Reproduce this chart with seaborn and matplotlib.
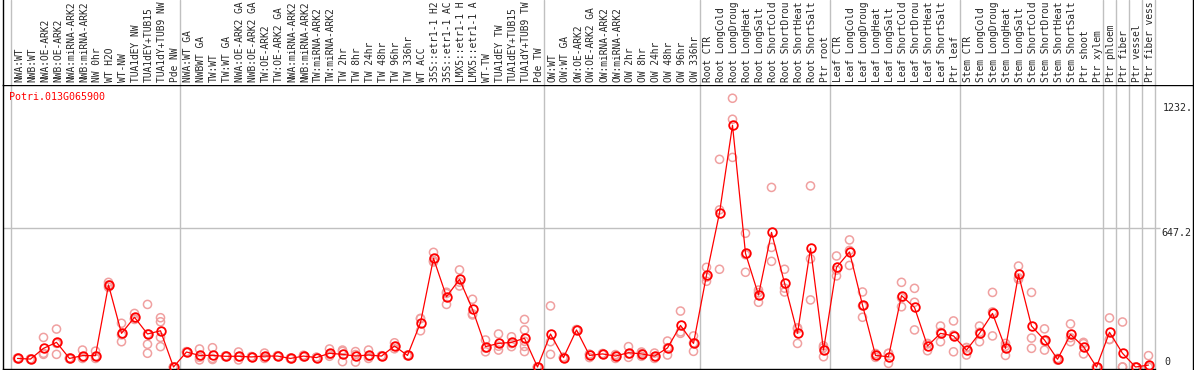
import numpy as np
import pandas as pd
import seaborn as sns
import matplotlib
matplotlib.use("Agg")
import matplotlib.pyplot as plt

sns.set_style("white")
plt.rcParams["font.family"] = ["DejaVu Sans Mono"]

gene = "Potri.013G065900"

# sample labels (as shown, truncated in the header)
labels = [
    "NWA:WT", "NWB:WT", "NWA:OE-ARK2", "NWB:OE-ARK2", "NWA:miRNA-ARK2", "NWB:miRNA-ARK2",
    "NW 0hr", "WT H2O", "WT-NW", "TUA1dEY NW", "TUA1dEY+TUB15", "TUA1dY+TUB9 NW", "Pde NW",
    "NWA:WT GA", "NWBWT GA", "TW:WT", "TW:WT GA", "NWA:OE-ARK2 GA", "NWB:OE-ARK2 GA",
    "TW:OE-ARK2", "TW:OE-ARK2 GA", "NWA:miRNA-ARK2", "NWB:miRNA-ARK2", "TW:miRNA-ARK2",
    "TW:miRNA-ARK2", "TW 2hr", "TW 8hr", "TW 24hr", "TW 48hr", "TW 96hr", "TW 336hr",
    "WT ACC", "35S::etr1-1 H2", "35S::etr1-1 AC", "LMX5::etr1-1 H", "LMX5::etr1-1 A",
    "WT-TW", "TUA1dEY TW", "TUA1dEY+TUB15", "TUA1dY+TUB9 TW", "Pde TW",
    "OW:WT", "OW:WT GA", "OW:OE-ARK2", "OW:OE-ARK2 GA", "OW:miRNA-ARK2", "OW:miRNA-ARK2",
    "OW 2hr", "OW 8hr", "OW 24hr", "OW 48hr", "OW 96hr", "OW 336hr",
    "Root CTR", "Root LongCold", "Root LongDroug", "Root LongHeat", "Root LongSalt",
    "Root ShortCold", "Root ShortDrou", "Root ShortHeat", "Root ShortSalt", "Ptr root",
    "Leaf CTR", "Leaf LongCold", "Leaf LongDroug", "Leaf LongHeat", "Leaf LongSalt",
    "Leaf ShortCold", "Leaf ShortDrou", "Leaf ShortHeat", "Leaf ShortSalt", "Ptr leaf",
    "Stem CTR", "Stem LongCold", "Stem LongDroug", "Stem LongHeat", "Stem LongSalt",
    "Stem ShortCold", "Stem ShortDrou", "Stem ShortHeat", "Stem ShortSalt", "Ptr shoot",
    "Ptr xylem", "Ptr phloem", "Ptr fiber", "Ptr vessel", "Ptr fiber vess",
]

# mean expression per sample
means = [
    40, 37, 87, 115, 40, 53, 53, 383, 157, 232, 154, 169, 0,
    70, 54, 54, 50, 50, 47, 51, 51, 40, 51, 44, 64, 59, 51, 56, 51, 98, 54,
    207, 507, 328, 409, 269, 95, 110, 115, 134, 0,
    154, 44, 173, 54, 61, 51, 67, 61, 51, 89, 194, 110,
    428, 719, 1128, 530, 336, 628, 392, 157, 554, 79,
    465, 537, 289, 54, 48, 333, 278, 98, 157, 145,
    79, 157, 250, 87, 432, 191, 126, 36, 152, 95, 0,
    162, 64, 0, 9,
]

# replicate values per sample
reps = [
    [38, 42, 40], [35, 38, 37], [138, 64, 59], [177, 59, 110], [38, 42, 40],
    [79, 40, 45], [74, 50, 40], [395, 372, 383], [204, 118, 150], [250, 222, 225],
    [292, 106, 64, 154], [230, 211, 138, 95], [0, 0, 0],
    [72, 68, 70], [84, 33, 45], [90, 40, 35], [50, 48, 52], [70, 33, 47],
    [45, 49, 47], [65, 40, 48], [53, 49, 51], [42, 38, 40], [55, 47, 51],
    [46, 42, 44], [84, 50, 58], [79, 25, 73], [72, 23, 58], [79, 40, 49],
    [53, 49, 51], [113, 85, 96], [56, 52, 54], [225, 169, 227], [535, 490, 496],
    [343, 292, 349], [453, 378, 396], [316, 243, 248], [126, 71, 88],
    [154, 79, 97], [141, 95, 109], [222, 173, 120, 96, 72], [0, 0, 0],
    [285, 59, 118], [46, 42, 44], [175, 171, 173], [60, 44, 58], [63, 59, 61],
    [55, 40, 58], [95, 45, 61], [70, 50, 63], [65, 40, 48], [121, 56, 90],
    [261, 157, 164], [145, 73, 112],
    [465, 400, 419], [969, 733, 456], [1254, 1156, 978], [624, 442, 524],
    [359, 302, 347], [838, 558, 493], [456, 368, 350], [178, 110, 183],
    [845, 505, 313], [90, 48, 99],
    [518, 425, 452], [593, 474, 544], [350, 232, 285], [63, 45, 54], [63, 17, 64],
    [395, 281, 323], [367, 302, 173], [110, 76, 108], [191, 118, 162], [215, 71, 149],
    [90, 56, 91], [191, 118, 162], [348, 145, 257], [110, 54, 97], [471, 409, 416],
    [348, 135, 87], [178, 79, 121], [40, 32, 36], [201, 118, 137], [115, 61, 109],
    [0, 0, 0], [229, 129, 128], [210, 0, 0], [0, 0, 0], [53, 0, 0],
]

# group boundaries (index of first sample of each block)
bounds = [0, 13, 41, 53, 63, 73, 84, 85, 86, 87, 88]

idx = np.arange(len(labels))
df_mean = pd.DataFrame({"pos": idx, "value": means})
df_rep = pd.DataFrame(
    [(i, v) for i, vals in enumerate(reps) for v in vals], columns=["pos", "value"]
)

W, H = 1194, 370
fig = plt.figure(figsize=(W / 100, H / 100), dpi=100)
# plot area and header, in pixel fractions
ax = fig.add_axes([3 / W, 1 / H, 1190 / W, 284 / H])
axh = fig.add_axes([3 / W, 285 / H, 1190 / W, 85 / H])

px_per_col = 13.0
x0 = (3 - 17.5) / px_per_col
x1 = (1193 - 17.5) / px_per_col
units_per_px = 647.2 / 138.7
ylo = -(369 - 367) * units_per_px
yhi = (367 - 85) * units_per_px

grey = "#c0c0c0"
for a in (ax, axh):
    a.set_xlim(x0, x1)
    for b in bounds:
        a.axvline(b - 0.5, color=grey, lw=1, zorder=0)
    a.set_xticks([])
    a.set_yticks([])
    for s in a.spines.values():
        s.set_color("black")
        s.set_linewidth(1)

ax.set_ylim(ylo, yhi)
ax.spines["bottom"].set_bounds(x0, 87.5)
axh.set_ylim(0, 1)
axh.spines["bottom"].set_visible(False)
axh.spines["top"].set_visible(False)

ax.hlines(647.2, x0, 87.9, color=grey, lw=1, zorder=0)

rep_col = "#f0a0a0"
sns.scatterplot(data=df_rep, x="pos", y="value", ax=ax, facecolor="none",
                edgecolor=rep_col, s=34, linewidth=1.1, zorder=2, legend=False)
sns.lineplot(data=df_mean, x="pos", y="value", ax=ax, color="#ff0000", lw=0.9,
             estimator=None, marker="o", markersize=6.2, markerfacecolor="none",
             markeredgecolor="#ff0000", markeredgewidth=1.3, zorder=3)
ax.set_xlabel("")
ax.set_ylabel("")

# header labels
for i, lab in enumerate(labels):
    axh.text(i + 0.12, 0.035, lab, rotation=90, ha="center", va="bottom",
             fontsize=6.9, transform=axh.get_xaxis_transform(), clip_on=False)

ax.text((9 - 3) / 1190, (369 - 97) / 284, gene, color="#ff0000", fontsize=7.2,
        ha="left", va="center", transform=ax.transAxes)

# value labels on the right
ax.text(88.1, 1232, "1232.", fontsize=7.2, ha="left", va="top")
ax.text(88.0, 647.2, "647.2", fontsize=7.2, ha="left", va="top")
ax.text(88.2, 0, "0", fontsize=7.2, ha="left", va="bottom")

fig.savefig("out.png", dpi=100)
